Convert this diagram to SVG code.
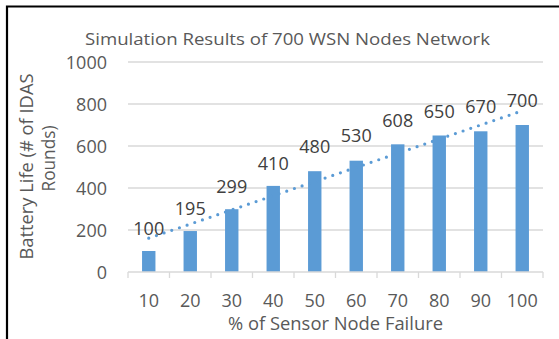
<svg xmlns="http://www.w3.org/2000/svg" width="559" height="339" viewBox="0 0 559 339">
<style>
text{font-family:"Open Sans","Liberation Sans",sans-serif;fill:#595959;}
.t{font-size:18px;}
.ttl{font-size:16.5px;}
.yl{font-size:18px;text-anchor:end;}
.xl{font-size:18px;text-anchor:middle;}
.dl{font-size:18px;text-anchor:middle;fill:#404040;}
.grid{stroke:#D9D9D9;stroke-width:1.3;fill:none;}
.bar{fill:#5B9BD5;}
.trend{stroke:#5B9BD5;stroke-width:3.2;stroke-linecap:round;stroke-dasharray:0 8.1;fill:none;}
</style>
<rect x="0" y="0" width="559" height="339" fill="#FFFFFF"/>
<path d="M7 339 V6.5 H559" stroke="#000" stroke-width="2.2" fill="none"/>
<g id="title"><text class="ttl" x="287.5" y="45" text-anchor="middle" textLength="405" lengthAdjust="spacingAndGlyphs">Simulation Results of 700 WSN Nodes Network</text></g>
<g id="gridlines">
<line class="grid" x1="128" y1="62" x2="543" y2="62"/>
<line class="grid" x1="128" y1="104" x2="543" y2="104"/>
<line class="grid" x1="128" y1="146" x2="543" y2="146"/>
<line class="grid" x1="128" y1="188" x2="543" y2="188"/>
<line class="grid" x1="128" y1="230" x2="543" y2="230"/>
</g>
<g id="y-axis">
<text class="yl" x="107" y="69">1000</text>
<text class="yl" x="107" y="111">800</text>
<text class="yl" x="107" y="153">600</text>
<text class="yl" x="107" y="195">400</text>
<text class="yl" x="107" y="237">200</text>
<text class="yl" x="107" y="279">0</text>
<text class="t" transform="translate(32.5,166.5) rotate(-90)" text-anchor="middle" textLength="186" lengthAdjust="spacingAndGlyphs">Battery Life (# of IDAS</text>
<text class="t" transform="translate(54.5,158.5) rotate(-90)" text-anchor="middle" textLength="66" lengthAdjust="spacingAndGlyphs">Rounds)</text>
</g>
<g id="bars">
<rect class="bar" x="142.05" y="251" width="13.4" height="21"/>
<rect class="bar" x="183.55" y="231.05" width="13.4" height="40.95"/>
<rect class="bar" x="225.05" y="209.21" width="13.4" height="62.79"/>
<rect class="bar" x="266.55" y="185.9" width="13.4" height="86.1"/>
<rect class="bar" x="308.05" y="171.2" width="13.4" height="100.8"/>
<rect class="bar" x="349.55" y="160.7" width="13.4" height="111.3"/>
<rect class="bar" x="391.05" y="144.32" width="13.4" height="127.68"/>
<rect class="bar" x="432.55" y="135.5" width="13.4" height="136.5"/>
<rect class="bar" x="474.05" y="131.3" width="13.4" height="140.7"/>
<rect class="bar" x="515.55" y="125" width="13.4" height="147"/>
</g>
<g id="x-axis">
<path class="grid" d="M128 272 H543 M128 272 V278 M169.5 272 V278 M211 272 V278 M252.5 272 V278 M294 272 V278 M335.5 272 V278 M377 272 V278 M418.5 272 V278 M460 272 V278 M501.5 272 V278 M543 272 V278"/>
<text class="xl" x="148.75" y="307">10</text>
<text class="xl" x="190.25" y="307">20</text>
<text class="xl" x="231.75" y="307">30</text>
<text class="xl" x="273.25" y="307">40</text>
<text class="xl" x="314.75" y="307">50</text>
<text class="xl" x="356.25" y="307">60</text>
<text class="xl" x="397.75" y="307">70</text>
<text class="xl" x="439.25" y="307">80</text>
<text class="xl" x="480.75" y="307">90</text>
<text class="xl" x="522.25" y="307">100</text>
<text class="xl" x="335.5" y="330" textLength="215" lengthAdjust="spacingAndGlyphs">% of Sensor Node Failure</text>
</g>
<g id="connectors">
<line class="trend" x1="148.75" y1="238.2" x2="522.25" y2="110.8"/>
</g>
<g id="data-labels">
<text class="dl" x="148.75" y="234.5">100</text>
<text class="dl" x="190.25" y="214.5">195</text>
<text class="dl" x="231.75" y="193">299</text>
<text class="dl" x="273.25" y="169.5">410</text>
<text class="dl" x="314.75" y="153">480</text>
<text class="dl" x="356.25" y="142">530</text>
<text class="dl" x="397.75" y="126.5">608</text>
<text class="dl" x="439.25" y="118">650</text>
<text class="dl" x="480.75" y="113">670</text>
<text class="dl" x="522.25" y="106.5">700</text>
</g>
</svg>
